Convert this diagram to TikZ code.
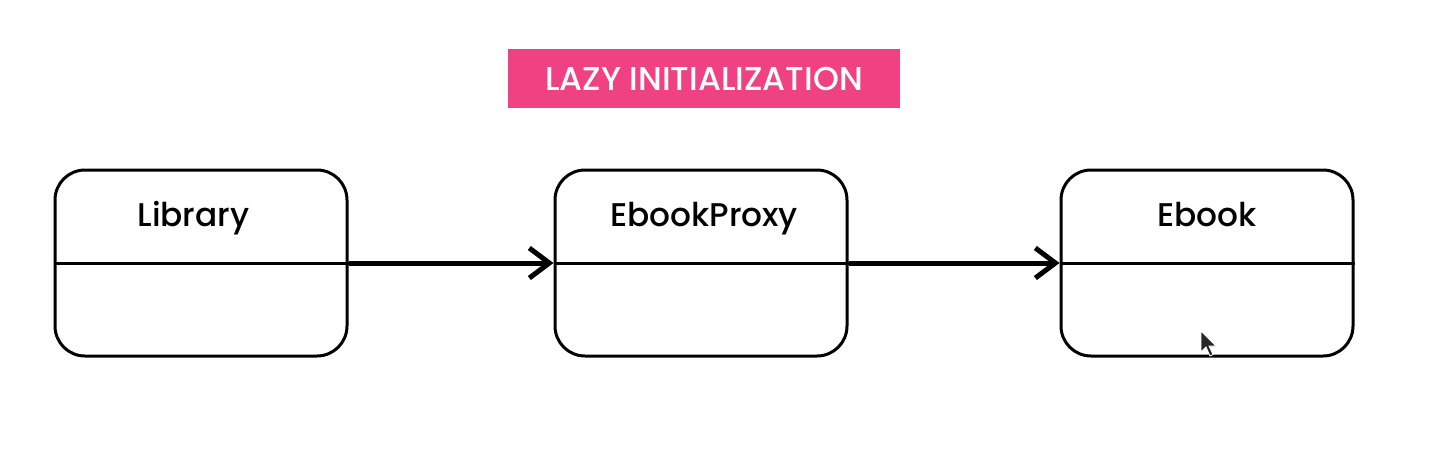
\documentclass[tikz,border=0pt]{standalone}
\usepackage{fontspec}
\setmainfont{Poppins}
\newfontfamily\medfont{Poppins Medium}
\usetikzlibrary{arrows.meta}
\definecolor{titlepink}{RGB}{240,65,130}
\tikzset{
  classbox/.style={draw=black, line width=3pt, rounded corners=30pt, minimum width=292pt, minimum height=186pt, inner sep=0pt},
  divider/.style={line width=3pt},
  conn/.style={line width=5pt, -{Straight Barb[length=20pt,width=30pt,line width=5pt]}},
  lbl/.style={font=\medfont\fontsize{32.8pt}{38pt}\selectfont, anchor=base, inner sep=0pt},
  titlebox/.style={fill=titlepink, minimum width=392pt, minimum height=59pt, inner sep=0pt, text=white, font=\medfont\fontsize{33pt}{38pt}\selectfont}
}
\begin{document}
\begin{tikzpicture}[x=1pt,y=-1pt]
\useasboundingbox (0,0) rectangle (1430,448);
\node[titlebox] (title) at (704,78.5) {LAZY INITIALIZATION};
\node[classbox] (lib) at (201,263) {};
\node[classbox] (proxy) at (701,263) {};
\node[classbox] (ebook) at (1207,263) {};
\draw[divider] (lib.west) -- (lib.east);
\draw[divider] (proxy.west) -- (proxy.east);
\draw[divider] (ebook.west) -- (ebook.east);
\node[lbl] (libl) at (193.5,226) {Library};
\node[lbl] (proxyl) at (704,226) {EbookProxy};
\node[lbl] (ebookl) at (1207,226) {Ebook};
\draw[conn] (lib.east) -- (proxy.west);
\draw[conn] (proxy.east) -- (ebook.west);
\fill[black!85, draw=white, line width=0.8pt] (1201,331) -- (1201,352) -- (1206,347) -- (1210,356) -- (1213,354.5) -- (1209,346) -- (1216,346) -- cycle;
\end{tikzpicture}
\end{document}
